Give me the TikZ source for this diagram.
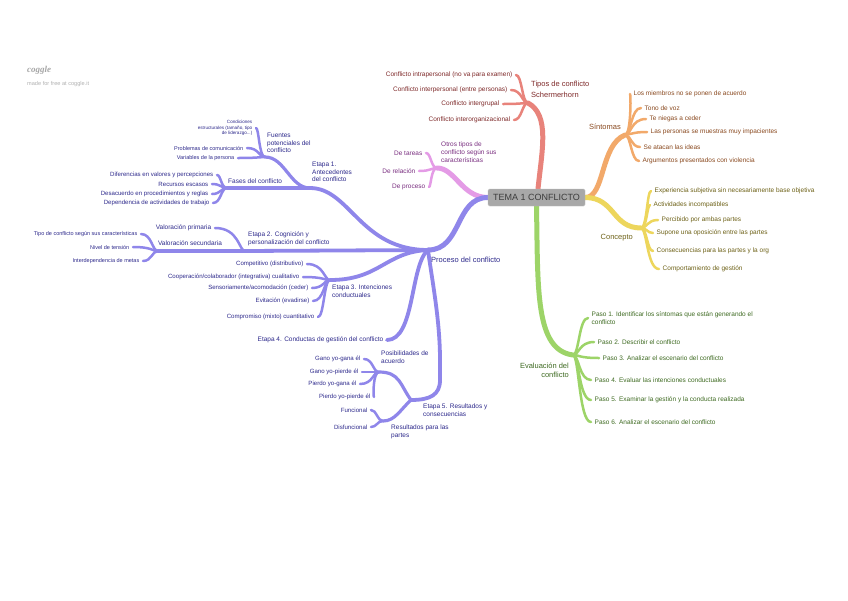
\documentclass[tikz,border=0pt]{standalone}
\usepackage{fontspec}
\setmainfont{Liberation Sans}
\newfontfamily\logofont{Liberation Serif}
\usetikzlibrary{calc,backgrounds}
\definecolor{cRed}{HTML}{E8837B}
\definecolor{tRed}{HTML}{7F2A2A}
\definecolor{cOr}{HTML}{F2A96A}
\definecolor{tOr}{HTML}{8A4A20}
\definecolor{cYe}{HTML}{EDD65C}
\definecolor{tYe}{HTML}{6E6218}
\definecolor{cGr}{HTML}{9DD468}
\definecolor{tGr}{HTML}{3F6B22}
\definecolor{cPk}{HTML}{E49BE6}
\definecolor{tPk}{HTML}{7A2F80}
\definecolor{cPu}{HTML}{8F86EA}
\definecolor{tPu}{HTML}{2E2A8C}
\begin{document}
\begin{tikzpicture}[x=1pt,y=-1pt,
  lf/.style={line width=2.5pt,line cap=round},
  sb/.style={line width=3.2pt,line cap=round},
  sm/.style={line width=3.8pt,line cap=round},
  tk/.style={line width=5pt,line cap=round},
  rb/.style={to path={.. controls ($(\tikztostart)+(6,0)$) and ($(\tikztostart |- \tikztotarget)+(6,0)$) .. (\tikztotarget)}},
  lb/.style={to path={.. controls ($(\tikztostart)+(-6,0)$) and ($(\tikztostart |- \tikztotarget)+(-6,0)$) .. (\tikztotarget)}},
  f1/.style={font=\fontsize{7.5}{9.2}\selectfont},
  f2/.style={font=\fontsize{6.5}{7.6}\selectfont},
  f3/.style={font=\fontsize{6.1}{7}\selectfont},
  f4/.style={font=\fontsize{5.5}{6.4}\selectfont},
  f5/.style={font=\fontsize{4.6}{5.8}\selectfont},
  nl/.style={anchor=east,inner xsep=3.5pt,inner ysep=1pt},
  nr/.style={anchor=west,inner xsep=3.5pt,inner ysep=1pt},
  lab/.style={inner sep=1pt},
  ctr/.style={fill={rgb,255:red,168;green,168;blue,168},draw={rgb,255:red,190;green,190;blue,190},
    rounded corners=1.5pt,minimum width=97pt,minimum height=17pt,inner sep=0pt,
    text={rgb,255:red,60;green,60;blue,60},font=\fontsize{9}{10}\selectfont}
]
\useasboundingbox (0,0) rectangle (848,600);

% watermark
\node[anchor=west,inner sep=0pt,text=black!35,font=\logofont\fontsize{9}{9}\selectfont\itshape\bfseries] (wm1) at (27,70) {coggle};
\node[anchor=west,inner sep=0pt,text=black!30,font=\fontsize{5.6}{6}\selectfont] (wm2) at (27,84) {made for free at coggle.it};

% centre
\node[ctr] (c) at (536.5,197.5) {TEMA 1 CONFLICTO};

% hubs
\coordinate (hR) at (528,103);
\coordinate (hO) at (625,135);
\coordinate (hY) at (641,228);
\coordinate (hG) at (573,355);
\coordinate (hP) at (437,168);
\coordinate (hPr) at (428,250);
\coordinate (hE1) at (310,188);
\coordinate (hFu) at (265,157);
\coordinate (hFa) at (227,188);
\coordinate (hE2) at (245,251);
\coordinate (hVs) at (158,251);
\coordinate (hE3) at (330,280);
\coordinate (hE5) at (411,400);
\coordinate (hPo) at (379,372);
\coordinate (hRe) at (383,421);
\coordinate (k5a) at (440,360);
\coordinate (k5b) at (440,380);

% ---------- red
\begin{scope}[every node/.append style={text=tRed}]
\node[lab,f1,align=left,anchor=north west] (rl) at (530,80) {Tipos de conflicto\\[2pt]Schermerhorn};
\node[nl,f2] (r1) at (516,75) {Conflicto intrapersonal (no va para examen)};
\node[nl,f2] (r2) at (511,90) {Conflicto interpersonal (entre personas)};
\node[nl,f2] (r3) at (503,104) {Conflicto intergrupal};
\node[nl,f2] (r4) at (514,120) {Conflicto interorganizacional};
\end{scope}
% ---------- orange
\begin{scope}[every node/.append style={text=tOr}]
\node[lab,f1,anchor=east] (ol) at (622,127) {Síntomas};
\node[nr,f2] (o1) at (630,94) {Los miembros no se ponen de acuerdo};
\node[nr,f2] (o2) at (641,108) {Tono de voz};
\node[nr,f2] (o3) at (646,119) {Te niegas a ceder};
\node[nr,f2] (o4) at (647,132) {Las personas se muestras muy impacientes};
\node[nr,f2] (o5) at (640,147) {Se atacan las ideas};
\node[nr,f2] (o6) at (639,161) {Argumentos presentados con violencia};
\end{scope}
% ---------- yellow
\begin{scope}[every node/.append style={text=tYe}]
\node[lab,f1,anchor=east] (yl) at (634,238) {Concepto};
\node[nr,f2] (y1) at (651,191) {Experiencia subjetiva sin necesariamente base objetiva};
\node[nr,f2] (y2) at (650,205) {Actividades incompatibles};
\node[nr,f2] (y3) at (658,220) {Percibido por ambas partes};
\node[nr,f2] (y4) at (653,233) {Supone una oposición entre las partes};
\node[nr,f2] (y5) at (653,251) {Consecuencias para las partes y la org};
\node[nr,f2] (y6) at (659,269) {Comportamiento de gestión};
\end{scope}
% ---------- green
\begin{scope}[every node/.append style={text=tGr}]
\node[lab,f1,align=right,anchor=north east] (gl) at (570,362) {Evaluación del\\conflicto};
\node[nr,f2,align=left] (g1) at (588,318) {Paso 1. Identificar los síntomas que están generando el\\conflicto};
\node[nr,f2] (g2) at (594,342) {Paso 2. Describir el conflicto};
\node[nr,f2] (g3) at (599,358) {Paso 3. Analizar el escenario del conflicto};
\node[nr,f2] (g4) at (591,380) {Paso 4. Evaluar las intenciones conductuales};
\node[nr,f2] (g5) at (591,400) {Paso 5. Examinar la gestión y la conducta realizada};
\node[nr,f2] (g6) at (591,422) {Paso 6. Analizar el escenario del conflicto};
\end{scope}
% ---------- pink
\begin{scope}[every node/.append style={text=tPk}]
\node[lab,f2,align=left,anchor=north west] (kl) at (440,141) {Otros tipos de\\conflicto según sus\\características};
\node[nl,f2] (k1) at (426,153) {De tareas};
\node[nl,f2] (k2) at (419,171) {De relación};
\node[nl,f2] (k3) at (429,187) {De proceso};
\end{scope}
% ---------- purple
\begin{scope}[every node/.append style={text=tPu}]
\node[lab,f1,anchor=west] (pl) at (430,260) {Proceso del conflicto};
\node[lab,f2,align=left,anchor=north west] (e1l) at (311,161) {Etapa 1.\\Antecedentes\\del conflicto};
\node[lab,f2,align=left,anchor=north west] (ful) at (266,132) {Fuentes\\potenciales del\\conflicto};
\node[nl,f5,align=right] (u1) at (256,128) {Condiciones\\estructurales (tamaño, tipo\\de liderazgo...)};
\node[nl,f4] (u2) at (247,148) {Problemas de comunicación};
\node[nl,f4] (u3) at (238,158) {Variables de la persona};
\node[lab,f2,anchor=south west] (fal) at (227,185) {Fases del conflicto};
\node[nl,f3] (a1) at (217,175) {Diferencias en valores y percepciones};
\node[nl,f3] (a2) at (212,184) {Recursos escasos};
\node[nl,f3] (a3) at (212,194) {Desacuerdo en procedimientos y reglas};
\node[nl,f3] (a4) at (213,203) {Dependencia de actividades de trabajo};
\node[lab,f2,align=left,anchor=south west] (e2l) at (247,247) {Etapa 2. Cognición y\\personalización del conflicto};
\node[nl,f2] (v0) at (215,228) {Valoración primaria};
\node[lab,f2,anchor=south] (vsl) at (190,247) {Valoración secundaria};
\node[nl,f4] (v1) at (141,234) {Tipo de conflicto según sus características};
\node[nl,f4] (v2) at (133,247) {Nivel de tensión};
\node[nl,f4] (v3) at (143,261) {Interdependencia de metas};
\node[lab,f2,align=left,anchor=north west] (e3l) at (331,284) {Etapa 3. Intenciones\\conductuales};
\node[nl,f3] (e1) at (307,264) {Competitivo (distributivo)};
\node[nl,f3] (e2) at (303,277) {Cooperación/colaborador (integrativa) cualitativo};
\node[nl,f3] (e3) at (312,288) {Sensoriamente/acomodación (ceder)};
\node[nl,f3] (e4) at (313,301) {Evitación (evadirse)};
\node[nl,f3] (e5) at (318,317) {Compromiso (mixto) cuantitativo};
\node[nl,f2] (e4n) at (387,340) {Etapa 4. Conductas de gestión del conflicto};
\node[lab,f2,align=left,anchor=north west] (e5l) at (422,403) {Etapa 5. Resultados y\\consecuencias};
\node[lab,f2,align=left,anchor=north west] (pol) at (380,350) {Posibilidades de\\acuerdo};
\node[nl,f3] (p1) at (364,359) {Gano yo-gana él};
\node[nl,f3] (p2) at (362,372) {Gano yo-pierde él};
\node[nl,f3] (p3) at (360,384) {Pierdo yo-gana él};
\node[nl,f3] (p4) at (374,397) {Pierdo yo-pierde él};
\node[lab,f2,align=left,anchor=north west] (rel) at (390,424) {Resultados para las\\partes};
\node[nl,f3] (s1) at (371,410) {Funcional};
\node[nl,f3] (s2) at (371,427) {Disfuncional};
\end{scope}

\begin{scope}[on background layer]
\fill[white] (0,0) rectangle (848,600);
% red
\draw[tk,cRed] ([xshift=1.5pt]c.north) .. controls (542,150) and (550,115) .. (hR);
\foreach \n in {r1,r2,r3,r4} \draw[lf,cRed] (hR) to[lb] (\n.east);
% orange
\draw[tk,cOr] (c.east) .. controls (605,197.5) and (600,145) .. (hO);
\foreach \n in {o1,o2,o3,o4,o5,o6} \draw[lf,cOr] (hO) to[rb] (\n.west);
% yellow
\draw[tk,cYe] (c.east) .. controls (615,197.5) and (612,228) .. (hY);
\foreach \n in {y1,y2,y3,y4,y5,y6} \draw[lf,cYe] (hY) to[rb] (\n.west);
% green
\draw[tk,cGr] (c.south) .. controls (538,290) and (535,350) .. (hG);
\foreach \n in {g1,g2,g3,g4,g5,g6} \draw[lf,cGr] (hG) to[rb] (\n.west);
% pink
\draw[tk,cPk] (c.west) .. controls (462,197.5) and (455,168) .. (hP);
\foreach \n in {k1,k2,k3} \draw[lf,cPk] (hP) to[lb] (\n.east);
% purple
\draw[tk,cPu] (c.west) .. controls (455,197.5) and (462,250) .. (hPr);
\draw[sm,cPu] (hPr) .. controls (360,250) and (350,188) .. (hE1);
\draw[sb,cPu] (hE1) .. controls (290,188) and (285,157) .. (hFu);
\foreach \n in {u1,u2,u3} \draw[lf,cPu] (hFu) to[lb] (\n.east);
\draw[sb,cPu] (hE1) -- (hFa);
\foreach \n in {a1,a2,a3,a4} \draw[lf,cPu] (hFa) to[lb] (\n.east);
\draw[sm,cPu] (hPr) -- (hE2);
\draw[lf,cPu] (hE2) to[lb] (v0.east);
\draw[sb,cPu] (hE2) -- (hVs);
\foreach \n in {v1,v2,v3} \draw[lf,cPu] (hVs) to[lb] (\n.east);
\draw[sm,cPu] (hPr) .. controls (385,252) and (380,280) .. (hE3);
\foreach \n in {e1,e2,e3,e4,e5} \draw[lf,cPu] (hE3) to[lb] (\n.east);
\draw[sm,cPu] (hPr) .. controls (410,265) and (415,340) .. (e4n.east);
\draw[sm,cPu] (hPr) .. controls (432,280) and (440,320) .. (k5a) -- (k5b) .. controls (440,395) and (430,400) .. (hE5);
\draw[sb,cPu] (hE5) .. controls (400,385) and (400,372) .. (hPo);
\foreach \n in {p1,p2,p3,p4} \draw[lf,cPu] (hPo) to[lb] (\n.east);
\draw[sb,cPu] (hE5) .. controls (400,410) and (395,421) .. (hRe);
\foreach \n in {s1,s2} \draw[lf,cPu] (hRe) to[lb] (\n.east);
\end{scope}
\end{tikzpicture}
\end{document}
